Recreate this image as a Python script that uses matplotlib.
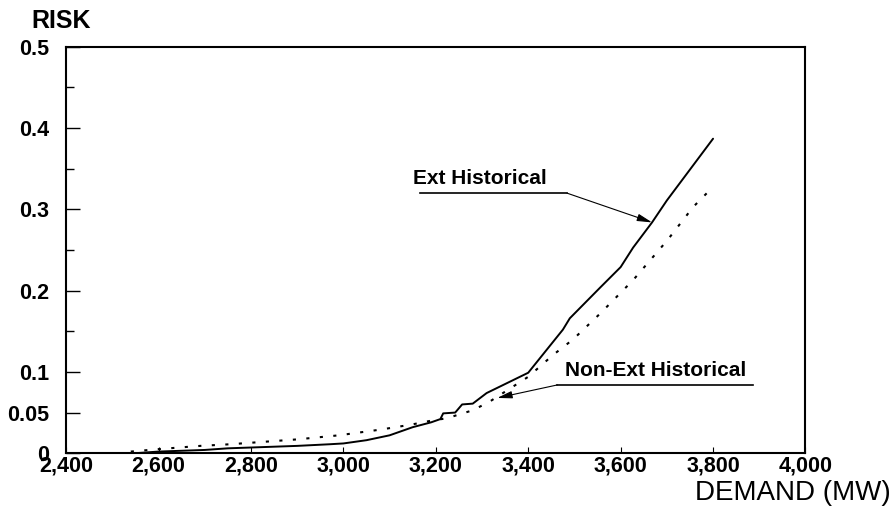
import numpy as np
import matplotlib
matplotlib.use('Agg')
import matplotlib.pyplot as plt
from matplotlib.ticker import MultipleLocator, FuncFormatter

plt.rcParams['font.family'] = ['Liberation Sans', 'DejaVu Sans']
plt.rcParams['font.weight'] = 'bold'

# Ext Historical (solid)
ext_mw = [2550, 2600, 2700, 2750, 2800, 2900, 2970, 3000, 3050, 3100, 3150, 3190,
          3210, 3216, 3242, 3257, 3280, 3310, 3400, 3475, 3490, 3556, 3600, 3627,
          3668, 3700, 3800]
ext_risk = [0.0, 0.002, 0.004, 0.006, 0.007, 0.009, 0.011, 0.012, 0.016, 0.022, 0.032, 0.038,
            0.042, 0.049, 0.050, 0.060, 0.061, 0.074, 0.099, 0.152, 0.166, 0.204, 0.229, 0.253,
            0.284, 0.311, 0.387]

# Non-Ext Historical (dotted)
non_mw = [2540, 2600, 2690, 2755, 2900, 2990, 3080, 3145, 3190, 3224, 3281, 3318,
          3400, 3454, 3497, 3556, 3627, 3701, 3757, 3790]
non_risk = [0.002, 0.005, 0.009, 0.011, 0.017, 0.022, 0.029, 0.035, 0.040, 0.043, 0.053, 0.064,
            0.094, 0.121, 0.140, 0.172, 0.213, 0.262, 0.303, 0.322]

x_ticks = [2400, 2600, 2800, 3000, 3200, 3400, 3600, 3800, 4000]
y_labels = [0, 0.05, 0.1, 0.2, 0.3, 0.4, 0.5]

fig = plt.figure(figsize=(8.93, 5.15), dpi=100)
ax = fig.add_axes([0.074, 0.120, 0.828, 0.789])

ax.plot(ext_mw, ext_risk, color='black', lw=1.4, solid_capstyle='round')
ax.plot(non_mw, non_risk, color='black', lw=1.5, linestyle=(0, (1.5, 5)))

ax.set_xlim(2400, 4000)
ax.set_ylim(0, 0.5)

ax.set_xticks(x_ticks)
ax.xaxis.set_major_formatter(FuncFormatter(lambda v, p: f'{int(v):,}'))
ax.set_yticks(y_labels)
ax.yaxis.set_major_formatter(FuncFormatter(lambda v, p: '0' if v == 0 else f'{v:g}'))
ax.yaxis.set_minor_locator(MultipleLocator(0.05))

ax.tick_params(axis='both', which='both', direction='in', labelsize=15.5)
ax.tick_params(axis='y', which='major', length=10, width=1.0, pad=12)
ax.tick_params(axis='y', which='minor', length=6, width=1.0)
ax.tick_params(axis='x', which='major', length=4, width=0.8, pad=2)

for s in ax.spines.values():
    s.set_linewidth(1.5)

# leader lines with underlined captions
ax.annotate('', xy=(3668, 0.284), xytext=(3484, 0.320),
            arrowprops=dict(arrowstyle='-|>,head_length=0.9,head_width=0.22',
                            color='black', lw=0.8, shrinkA=0, shrinkB=0))
ax.plot([3166, 3484], [0.320, 0.320], color='black', lw=1.2)
ax.text(3151, 0.326, 'Ext Historical', fontsize=15, va='bottom', ha='left')

ax.annotate('', xy=(3333, 0.068), xytext=(3463, 0.084),
            arrowprops=dict(arrowstyle='-|>,head_length=0.9,head_width=0.22',
                            color='black', lw=0.8, shrinkA=0, shrinkB=0))
ax.plot([3463, 3887], [0.084, 0.084], color='black', lw=1.2)
ax.text(3480, 0.090, 'Non-Ext Historical', fontsize=15, va='bottom', ha='left')

fig.text(0.035, 0.935, 'RISK', fontsize=18, ha='left', va='bottom')
fig.text(0.997, 0.018, 'DEMAND (MW)', fontsize=20, fontweight='normal', ha='right', va='bottom')

fig.savefig('out.png', dpi=100)
